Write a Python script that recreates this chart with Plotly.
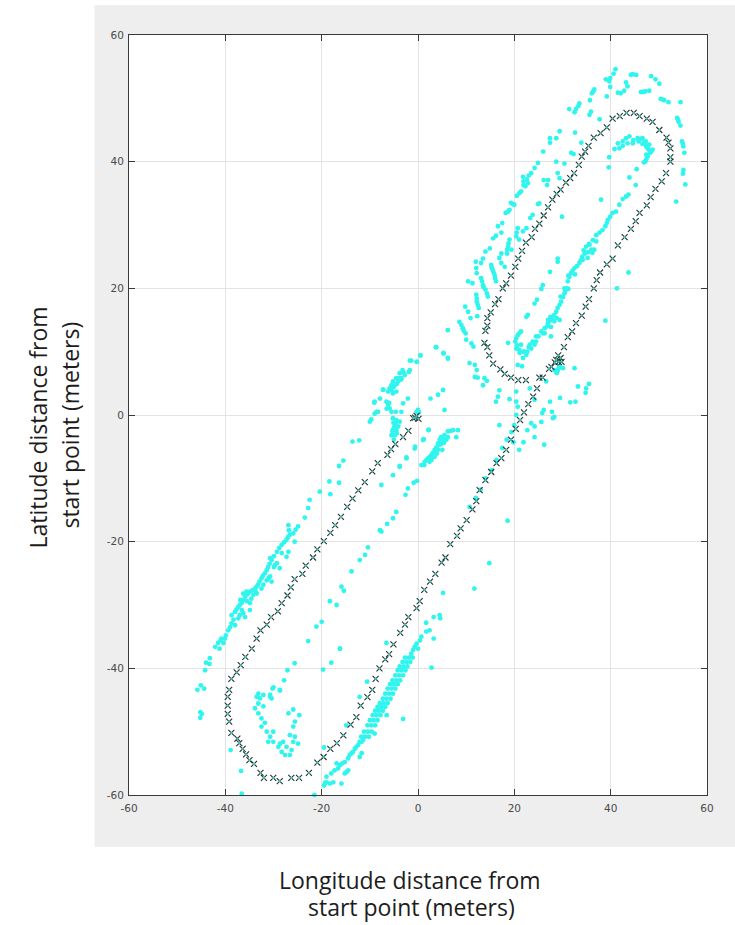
import plotly.graph_objects as go

# Vehicle track (longitude m, latitude m)
track_south = [(-1.0,-0.5),(-0.3,-0.15),(0.1,-0.6),(-0.6,-0.4),(-2.0,-2.5),(-3.1,-3.5),(-4.7,-4.6),(-5.6,-5.4),(-6.35,-6.3),(-8.35,-7.6),(-9.5,-8.9),(-11.05,-10.6),(-12.4,-11.9),(-13.6,-13.2),(-14.7,-14.5),(-16.0,-16.1),(-17.2,-17.4),(-18.2,-18.6),(-19.55,-19.9),(-20.9,-21.2),(-21.8,-22.5),(-23.3,-23.8),(-24.0,-25.1),(-25.6,-25.9),(-26.4,-27.2),(-27.1,-28.5),(-28.3,-29.7),(-29.1,-31.0),(-30.5,-31.9),(-31.4,-33.1),(-32.7,-34.0),(-33.5,-35.3),(-34.5,-36.9),(-35.85,-38.2),(-36.8,-39.5),(-37.65,-40.65),(-38.75,-41.65),(-39.2,-43.4),(-39.5,-44.5),(-39.5,-45.9),(-39.5,-47.2),(-39.2,-48.4),(-38.75,-50.2),(-37.5,-51.1),(-37.1,-51.8),(-36.4,-52.7),(-35.7,-53.6),(-35.0,-54.5),(-34.05,-55.1),(-32.7,-56.5),(-32.0,-57.3),(-30.05,-57.3),(-28.7,-57.8),(-26.3,-57.3),(-24.7,-57.3),(-22.65,-56.5),(-20.9,-54.9),(-19.6,-54.0),(-18.2,-52.7),(-16.85,-51.8),(-15.5,-50.6),(-14.0,-48.9),(-12.8,-47.7),(-11.9,-45.9),(-10.5,-44.55),(-9.5,-43.4),(-8.8,-41.65),(-8.0,-40.0),(-6.8,-38.6),(-6.0,-37.75),(-5.1,-36.2),(-3.7,-34.4),(-2.7,-33.1),(-2.0,-31.9),(-0.3,-30.5),(0.35,-29.4),(1.3,-27.6),(2.5,-26.3),(3.6,-25.1),(4.9,-23.3),(5.7,-22.5),(6.7,-20.4),(8.1,-19.1),(8.85,-17.9),(10.1,-16.6),(11.3,-14.9),(12.1,-13.6),(12.8,-11.85),(14.0,-10.3),(15.2,-9.0),(16.3,-7.6),(17.3,-6.8),(18.3,-5.5),(19.3,-3.9)]
track_north = [(20.3,-2.2),(21.2,-0.8),(22.0,0.4),(22.9,1.7),(23.9,2.9),(24.7,4.2),(25.2,5.9),(25.9,5.9),(27.2,7.3),(27.7,7.6),(28.4,8.3),(28.7,8.7),(29.2,8.4),(29.8,8.4),(29.6,9.0),(29.1,9.4),(30.3,10.7),(31.1,12.3),(32.0,13.2),(32.8,14.5),(34.0,15.7),(34.8,17.1),(35.5,18.3),(36.5,20.0),(37.1,21.3),(37.8,22.5),(39.2,23.8),(40.4,24.7),(41.5,26.8),(42.9,28.1),(44.2,29.4),(45.2,30.6),(46.0,31.9),(47.5,33.1),(48.3,34.4),(49.3,35.7),(50.6,36.9),(51.5,38.2),(52.4,40.0),(52.4,40.7),(52.4,42.1),(52.0,43.0),(51.6,43.8),(50.1,45.0),(48.7,46.3),(47.5,46.8),(46.0,47.2),(44.8,47.7),(43.3,47.7),(41.9,47.2),(40.4,46.8),(39.2,45.4),(37.9,44.5),(36.5,43.8),(35.4,42.5),(34.7,41.6),(34.0,40.8),(33.4,39.5),(32.4,38.2),(31.6,37.4),(30.7,36.7),(29.6,35.6),(28.8,34.9),(27.9,34.0),(27.0,32.8),(26.1,31.5),(25.2,30.2),(24.3,29.4),(23.6,28.1),(22.4,27.2),(21.6,25.9),(20.8,24.7),(20.2,23.4),(19.3,22.0),(18.3,20.8),(17.6,20.0),(16.7,18.3),(16.0,17.5),(15.1,16.2),(14.4,15.3),(14.4,14.1),(14.0,13.3),(13.8,11.4),(14.4,10.7),(14.8,9.4),(15.6,8.1),(17.1,7.2),(18.0,6.5),(19.3,5.9),(20.8,5.5),(22.4,5.5)]

# Detected landmarks (cyan), by area
top_arc = [(41.0,54.6),(40.6,53.9),(39.9,53.2),(39.0,53.0),(39.7,52.7),(39.9,51.8),(39.2,50.3),(36.6,51.4),(36.4,51.1),(36.1,50.8),(35.7,49.7),(33.5,49.2),(33.3,48.8),(32.8,48.3),(32.5,47.8),(31.4,48.3),(35.9,47.9),(35.6,47.4),(37.7,46.7),(45.3,53.7),(44.6,53.8),(44.2,53.7),(43.2,52.5),(43.5,51.9),(42.8,51.2),(41.5,50.9),(42.1,50.8),(48.4,53.5),(49.3,53.0),(50.1,52.3),(46.3,51.0),(46.8,51.0),(47.2,51.1),(48.0,51.2),(50.4,49.9),(50.8,49.8),(51.1,49.7),(52.0,49.4),(54.5,49.4),(53.8,46.9),(54.0,46.6),(54.1,46.3),(54.5,45.7),(54.8,43.2),(55.0,42.8),(55.1,42.4),(55.3,41.4),(55.1,38.7),(55.0,38.1),(55.5,36.4),(53.6,33.7)]
north_outer = [(32.6,44.6),(33.9,43.0),(31.8,41.4),(32.3,41.2),(29.4,44.8),(28.7,43.7),(27.4,43.7),(27.4,43.0),(26.0,41.6),(24.9,39.8),(24.2,39.0),(23.5,38.2),(23.0,37.8),(22.6,37.2),(21.8,37.6),(21.9,36.9),(22.8,36.6),(22.3,36.1),(21.9,36.3),(21.4,35.3),(21.0,35.0),(20.5,34.6),(19.7,33.3),(19.3,33.5),(20.0,33.2),(19.0,32.4),(18.7,32.1),(18.2,31.9),(28.7,40.0),(30.4,39.7),(29.0,38.2),(29.4,37.4),(27.0,37.1),(26.1,37.1),(26.8,36.3),(25.2,33.4),(24.9,33.3),(23.8,31.6),(23.3,31.1),(20.7,29.5),(20.5,28.8),(20.4,28.2),(21.0,27.7),(22.5,29.5),(21.8,29.0),(19.0,27.7),(18.8,27.1),(18.7,26.6),(18.5,26.1),(18.5,25.5),(19.4,26.1),(17.5,30.3),(16.6,29.8),(15.6,27.9),(16.2,28.3),(17.3,28.8),(14.9,26.3),(14.0,25.8),(13.5,24.7),(13.1,24.0),(12.0,24.2),(12.1,23.2),(12.2,22.4),(15.2,23.7),(15.3,23.3),(15.5,22.9),(15.7,22.5),(15.9,22.1),(16.0,21.6),(16.2,21.1),(17.3,25.5),(16.9,24.8),(17.3,24.0),(18.0,23.4),(13.1,21.6),(13.3,21.1),(13.5,20.5),(13.6,20.2),(14.0,19.8),(14.3,19.2),(14.5,18.7),(12.1,19.0),(12.2,18.4),(12.2,17.9),(12.4,17.4),(12.6,16.9),(10.4,21.1),(11.3,20.8),(9.8,17.1),(10.4,16.3),(8.6,14.7),(9.0,14.2),(9.3,13.7),(9.5,13.3),(9.9,12.9),(10.9,15.3),(12.3,15.6),(6.2,13.4),(10.0,11.9),(11.1,11.3),(11.5,10.8),(3.8,10.7),(5.3,9.8),(6.2,8.9),(0.5,9.4),(-1.4,8.6),(-0.3,8.4),(10.7,8.2),(11.8,7.9),(12.2,7.1),(11.8,6.0),(12.4,5.9),(13.8,5.8),(14.3,5.4),(13.5,4.7),(16.9,3.9),(16.6,2.9),(16.2,2.1),(20.4,3.7),(19.0,2.5),(20.7,7.9),(21.6,7.7)]
inner_arc = [(40.8,42.0),(41.8,42.1),(41.5,42.9),(42.5,43.2),(43.2,43.7),(43.9,44.0),(44.7,43.4),(45.6,43.7),(43.5,42.9),(44.6,42.9),(42.5,42.5),(46.3,43.6),(47.0,42.9),(47.7,42.1),(48.4,41.6),(47.7,40.8),(47.2,40.0),(46.6,43.7),(45.8,43.2),(48.0,42.7),(48.7,41.9),(47.4,42.4),(47.9,41.9),(48.2,41.4),(47.4,41.1),(47.4,40.4),(46.9,39.9),(46.6,42.8),(46.9,43.0),(47.3,43.2)]
inner_streak = [(35.2,24.8),(34.2,24.5),(33.5,24.0),(33.0,23.5),(32.5,23.2),(32.1,22.8),(31.8,22.4),(31.4,21.8),(31.1,21.1),(30.9,20.0),(30.6,19.6),(30.4,19.2),(30.1,18.6),(29.7,17.9),(29.4,17.4),(29.0,16.9),(28.7,16.3),(28.3,15.8),(27.9,15.3),(27.4,14.9),(27.0,14.5),(26.3,13.7),(25.6,13.2),(24.5,12.4),(23.8,11.6),(23.2,11.1),(22.1,10.0),(27.0,15.0),(28.3,14.8),(29.4,15.0),(27.6,13.9),(26.3,12.9),(24.2,11.1),(23.5,10.5),(21.4,13.2),(20.7,12.6),(20.2,11.6),(20.4,10.5),(21.1,9.8),(21.8,9.0),(22.5,9.5),(21.4,11.1),(43.7,34.8),(43.2,34.5),(42.5,34.1),(41.8,33.2),(41.1,32.1),(40.4,31.9),(39.9,31.3),(39.4,30.8),(39.2,30.3),(38.9,29.8),(38.3,29.2),(37.7,28.8),(37.0,28.4),(36.3,27.6),(37.0,27.4),(35.6,26.9),(34.9,26.6),(36.0,26.1),(36.6,26.1),(34.6,25.5),(34.1,25.0),(27.5,15.5),(28.8,15.3),(26.8,14.0),(25.9,12.9),(25.0,12.4),(24.5,11.6),(23.0,10.7),(22.7,10.0),(21.8,10.0),(21.0,10.3),(20.6,11.0),(20.4,12.1),(21.0,12.9),(30.4,20.0),(31.2,19.9),(29.6,18.7),(31.2,22.0),(32.6,22.2),(35.5,27.0),(34.4,26.0),(35.3,25.7),(36.2,25.6),(33.8,24.4)]
inner_sparse = [(45.4,38.8),(43.9,37.5),(45.2,36.3),(39.7,40.7),(39.6,39.1),(38.0,34.0),(29.0,24.7),(29.0,24.2),(27.4,22.6),(25.9,20.5),(25.6,19.9),(24.7,18.2),(24.2,17.6),(22.8,15.8),(22.5,15.5),(29.9,31.3),(38.9,14.9),(41.3,20.0),(43.7,22.5),(27.6,12.4),(18.7,11.4),(32.5,7.4),(29.2,7.4),(28.8,6.6),(29.5,7.7),(28.3,7.1),(30.1,7.4),(29.0,7.0),(26.6,5.3),(35.5,4.9),(34.9,4.2),(34.8,3.5),(33.2,4.5),(32.7,2.1),(31.6,2.0),(29.5,2.7),(27.4,2.1),(20.4,2.1),(20.7,1.3),(26.1,0.8),(25.8,0.3),(27.8,0.5),(28.3,-0.3),(28.0,-0.5),(23.2,4.2),(24.2,2.4),(23.5,-1.3),(24.2,-1.8),(25.6,-1.1),(20.4,0.0)]
center_cluster = [(-1.7,7.1),(-2.75,6.3),(-3.45,5.8),(-4.1,5.3),(-4.8,4.7),(-5.5,4.7),(-5.9,4.2),(-6.2,3.7),(-5.2,3.4),(-4.5,3.7),(-7.2,4.0),(-9.0,2.1),(-6.55,2.1),(-6.2,1.6),(-5.9,1.05),(-5.2,-0.5),(-4.8,-1.6),(-5.2,-2.4),(-4.5,-0.8),(-4.1,-1.8),(-4.8,-3.2),(-5.5,-3.2),(-4.5,-2.4),(-3.8,-1.05),(-8.6,0.5),(-10.0,-1.05),(-2.1,2.6),(-3.1,1.85),(-3.45,0.5),(-4.6,0.5),(0.0,0.8),(0.2,0.4),(-0.3,0.5),(-1.7,8.6),(-0.2,8.4),(0.5,9.4),(-3.2,7.1),(-1.9,6.8),(-3.8,6.6),(-4.5,5.8),(-3.5,5.6),(-5.2,5.3),(-7.3,4.0),(-7.9,2.6),(-9.1,1.95),(-8.3,0.5),(-9.0,0.2),(-9.7,-0.7),(3.7,10.7),(5.3,9.7),(6.2,9.0),(-3.0,6.7),(-3.8,5.8),(-4.4,4.9),(-5.1,4.4),(-5.5,3.9),(-5.1,-1.2),(-5.0,-2.0),(-4.4,-2.9),(-5.0,-3.9),(-5.3,-2.6),(-4.6,-1.2),(-6.0,1.9),(-5.5,0.5),(-6.5,1.0)]
center_blob = [(7.3,-2.4),(8.3,-2.4),(6.8,-2.5),(6.2,-2.6),(5.5,-3.2),(5.2,-3.4),(5.2,-3.9),(4.9,-4.5),(4.5,-4.7),(3.8,-5.1),(3.45,-5.5),(3.1,-6.0),(2.8,-6.3),(2.45,-6.6),(2.1,-6.85),(1.75,-7.1),(1.4,-7.4),(0.7,-7.9),(4.5,-3.9),(5.9,-3.9),(4.15,-5.5),(4.15,-4.5),(3.45,-6.6),(2.8,-7.1),(7.95,-3.5),(5.05,-5.5),(1.05,-3.95),(-0.7,-5.3),(-2.4,-6.85),(-3.8,-8.2),(2.6,2.6),(4.15,3.2),(5.2,3.95),(5.5,0.8),(2.2,-2.4),(3.9,-6.1),(3.2,-6.6),(2.4,-7.4),(1.3,-7.9),(5.4,-4.4),(4.8,-3.5),(6.2,-3.5)]
west_outer = [(-40.1,-35.3),(-39.4,-34.0),(-38.7,-32.9),(-38.7,-31.6),(-38.0,-31.1),(-37.3,-30.3),(-36.6,-29.7),(-35.9,-28.7),(-34.9,-27.9),(-33.8,-27.4),(-33.2,-26.8),(-32.5,-25.8),(-31.8,-25.0),(-31.1,-24.0),(-30.4,-22.9),(-29.3,-21.6),(-28.3,-20.5),(-27.3,-19.7),(-26.6,-18.9),(-25.9,-18.7),(-26.9,-17.4),(-24.9,-17.6),(-36.9,-29.2),(-36.3,-28.2),(-35.6,-27.9),(-31.4,-26.1),(-30.4,-26.3),(-32.5,-27.4),(-34.2,-28.4),(-35.9,-31.9),(-37.3,-32.1),(-38.0,-33.2),(-29.7,-23.7),(-28.7,-24.2),(-30.7,-22.6),(-26.9,-21.6),(-27.3,-22.4),(-25.6,-20.0),(-39.0,-33.5),(-38.3,-32.3),(-37.7,-30.7),(-37.0,-30.0),(-36.2,-29.2),(-35.4,-28.3),(-34.4,-27.7),(-33.5,-27.1),(-32.9,-26.3),(-32.2,-25.4),(-31.4,-24.5),(-30.8,-23.5),(-29.9,-22.3),(-28.8,-21.0),(-27.8,-20.1),(-27.0,-19.3),(-26.8,-18.2),(-25.4,-18.1),(-36.6,-30.8),(-37.0,-31.6),(-35.5,-29.4),(-34.6,-29.0),(-33.6,-28.0),(-31.0,-25.7),(-29.9,-24.0),(-36.3,-31.3),(-34.9,-29.7),(-33.5,-28.2),(-32.1,-26.8),(-30.7,-25.5),(-29.3,-23.4),(-28.3,-21.8),(-34.9,-30.8),(-41.5,-36.0),(-40.4,-36.0),(-39.9,-34.8),(-13.6,-4.2),(-12.2,-4.0),(-15.5,-7.2),(-16.4,-8.05),(-18.4,-10.5),(-16.4,-10.7),(-20.4,-12.1),(-18.2,-12.5),(-22.5,-13.4),(-22.8,-14.7),(-23.5,-16.2),(-41.0,-35.6),(-40.8,-35.3),(-42.1,-36.6),(-41.2,-36.9),(-43.2,-38.4),(-44.0,-39.1),(-43.3,-39.3),(-44.2,-40.3),(-45.1,-42.7),(-44.4,-43.2),(-45.8,-43.4),(-45.2,-46.9),(-44.9,-47.2),(-45.2,-47.8)]
middle_sparse = [(-7.9,-18.2),(-7.6,-18.4),(-6.4,-17.2),(-5.2,-16.3),(-4.5,-15.3),(-7.6,-11.05),(-5.2,-9.5),(-3.8,-8.05),(-2.4,-6.7),(-0.6,-5.0),(1.2,-3.8),(2.2,-2.3),(-2.6,-12.6),(-2.1,-11.6),(-0.9,-10.7),(-0.2,-10.4),(-10.4,-20.9),(-11.0,-22.1),(-12.1,-22.9),(-13.8,-24.7),(-15.9,-27.1),(-15.4,-27.75),(-18.3,-29.4),(-16.9,-30.0),(-20.0,-32.65),(-21.1,-33.4),(-22.8,-35.7),(-16.2,-36.9),(-18.0,-39.1),(-19.7,-40.2),(-25.6,-39.2),(-27.1,-40.3),(-27.8,-41.9),(-28.7,-43.4),(-30.2,-43.2),(-30.7,-44.5),(10.7,-14.5),(12.0,-13.1),(13.0,-11.8),(14.0,-10.0),(15.3,-8.7),(16.3,-7.1),(17.5,-5.2),(18.4,-3.9),(19.4,-2.7),(20.0,-1.6),(18.6,-16.7),(14.8,-23.4),(19.8,-4.3),(21.0,-5.5),(22.7,-2.4),(21.9,-4.3),(24.2,-3.5),(26.2,-4.7),(16.9,-1.6)]
hook = [(-33.15,-44.0),(-33.5,-44.5),(-32.8,-44.75),(-32.1,-44.2),(-33.15,-45.55),(-32.1,-46.0),(-33.85,-46.3),(-33.15,-47.1),(-32.5,-47.9),(-31.8,-48.6),(-32.5,-49.2),(-31.4,-50.0),(-30.7,-50.8),(-30.05,-50.0),(-31.1,-51.6),(-30.05,-51.6),(-29.0,-52.4),(-28.3,-53.2),(-27.6,-53.7),(-26.6,-53.7),(-26.25,-52.9),(-27.3,-52.4),(-28.65,-51.9),(-28.0,-51.6),(-25.9,-51.6),(-26.6,-50.55),(-25.55,-50.8),(-30.4,-44.75),(-30.0,-43.0),(-30.7,-44.2),(-28.65,-43.5),(-26.9,-47.1),(-25.9,-46.5),(-24.65,-47.4),(-25.55,-48.4),(-25.9,-49.2),(-24.9,-51.9),(-38.9,-52.9),(-36.75,-56.2),(-36.6,-59.8),(-21.5,-60.0)]
south_center = [(-18.3,-58.2),(-17.3,-56.1),(-16.2,-55.3),(-15.2,-54.8),(-14.2,-53.7),(-13.1,-52.7),(-12.4,-52.1),(-11.7,-51.6),(-11.0,-50.8),(-10.4,-50.0),(-9.7,-49.0),(-9.2,-48.2),(-8.6,-47.4),(-8.1,-46.7),(-7.6,-46.1),(-7.1,-45.5),(-6.5,-44.8),(-6.0,-44.0),(-5.5,-43.2),(-5.0,-42.5),(-4.5,-41.9),(-3.9,-41.1),(-3.4,-40.3),(-3.0,-39.7),(-2.4,-39.0),(-1.9,-38.3),(-1.4,-37.7),(-0.7,-36.6),(0.4,-35.6),(1.7,-34.2),(-19.0,-57.1),(-18.0,-56.6),(-16.9,-55.0),(-14.5,-54.2),(-13.5,-53.2),(-12.1,-51.6),(-11.4,-51.3),(-15.7,-55.0),(-19.3,-58.1),(-17.6,-58.0),(-16.6,-55.8),(-13.8,-53.45),(-12.8,-52.4),(-14.8,-56.35),(-1.0,-37.1),(-0.3,-36.1),(0.7,-35.0),(0.0,-36.9)]
south_right = [(-10.2,-50.8),(-9.6,-50.0),(-8.9,-49.0),(-8.4,-48.2),(-7.8,-47.4),(-7.3,-46.7),(-6.8,-46.1),(-6.3,-45.5),(-5.7,-44.8),(-5.2,-44.0),(-4.7,-43.2),(-4.2,-42.5),(-3.7,-41.9),(-3.1,-41.1),(-2.6,-40.3),(-2.2,-39.7),(-1.6,-39.0),(-1.1,-38.3)]
south_left = [(-11.8,-50.8),(-11.2,-50.0),(-10.5,-49.0),(-10.0,-48.2),(-9.4,-47.4),(-8.9,-46.7),(-8.4,-46.1),(-7.9,-45.5),(-7.3,-44.8),(-6.8,-44.0),(-6.3,-43.2),(-5.8,-42.5),(-5.3,-41.9),(-4.7,-41.1),(-4.2,-40.3),(-3.8,-39.7),(-3.2,-39.0),(-2.7,-38.3)]
south_sparse = [(-14.5,-56.1),(-15.2,-56.6),(-11.7,-53.4),(-12.1,-54.0),(-9.0,-50.3),(-6.5,-47.4),(-3.1,-48.0),(-15.9,-58.2),(-19.0,-58.0),(-19.5,-58.5),(-19.5,-52.5),(-14.9,-49.0),(-12.1,-44.5),(-10.55,-42.1),(-6.55,-36.0),(-16.2,-36.9),(2.8,-39.9),(2.4,-34.0),(3.25,-35.3),(1.7,-32.8),(3.25,-31.9),(4.5,-31.6),(4.6,-32.1),(5.2,-28.1),(11.7,-27.4)]

x_ticks = [-60, -40, -20, 0, 20, 40, 60]
y_ticks = [-60, -40, -20, 0, 20, 40, 60]
x_title_lines = ["Longitude distance from", "start point (meters)"]
y_title_lines = ["Latitude distance from", "start point (meters)"]

cyan_groups = [top_arc, north_outer, inner_arc, inner_streak, inner_sparse, center_cluster, center_blob,
               west_outer, middle_sparse, hook, south_center, south_right, south_left, south_sparse]
cyan_points = [p for g in cyan_groups for p in g]
track = track_south + track_north

fig = go.Figure()
fig.add_trace(go.Scatter(
    x=[p[0] for p in cyan_points], y=[p[1] for p in cyan_points], mode="markers",
    marker=dict(color="#2ff5ee", size=4.8, line=dict(width=0)), name="landmarks", cliponaxis=False))
fig.add_trace(go.Scatter(
    x=[p[0] for p in track], y=[p[1] for p in track], mode="markers",
    marker=dict(symbol="x-thin", size=6, line=dict(width=1.1, color="#25302f")), name="track"))
fig.add_trace(go.Scatter(
    x=[p[0] for p in track], y=[p[1] for p in track], mode="markers",
    marker=dict(color="#3cc4b8", size=2.4, line=dict(width=0)), name="track centre"))

axis_common = dict(range=[-60, 60], showgrid=True, gridcolor="#e3e3e3", gridwidth=1,
                   zeroline=False, showline=True, linecolor="#3a3a3a", linewidth=1,
                   mirror="allticks", ticks="inside", ticklen=6, tickcolor="#3a3a3a",
                   tickfont=dict(family="DejaVu Sans", size=10.5, color="#4a4a4a"))
fig.update_xaxes(tickvals=x_ticks, ticktext=[str(v) for v in x_ticks], ticklabelstandoff=3, **axis_common)
fig.update_yaxes(tickvals=y_ticks, ticktext=[str(v) for v in y_ticks], ticklabelstandoff=2, **axis_common)

title_font = dict(family="Open Sans", size=23, color="#1c1c1c")
def px_x(px):
    return (px - 128.5) / 578.5
def px_y(py):
    return (795 - py) / 760

label_common = dict(xref="paper", yref="paper", showarrow=False, font=title_font, xanchor="center", yanchor="middle")
annotations = [
    dict(text=x_title_lines[0], x=px_x(410), y=px_y(880), **label_common),
    dict(text=x_title_lines[1], x=px_x(411), y=px_y(907), **label_common),
    dict(text=y_title_lines[0], x=px_x(37), y=px_y(428), textangle=-90, **label_common),
    dict(text=y_title_lines[1], x=px_x(69), y=px_y(425), textangle=-90, **label_common),
]

fig.update_layout(
    width=735, height=925, autosize=False, showlegend=False,
    margin=dict(l=128.5, r=28, t=35, b=130, autoexpand=False),
    paper_bgcolor="white", plot_bgcolor="white",
    annotations=annotations,
    shapes=[
        dict(type="rect", xref="paper", yref="paper", x0=px_x(94), x1=px_x(735), y0=px_y(847), y1=px_y(5),
             fillcolor="#eeeeee", line_width=0, layer="below"),
        dict(type="rect", xref="x", yref="y", x0=-60, x1=60, y0=-60, y1=60,
             fillcolor="white", line_width=0, layer="below"),
    ],
)
fig.write_html("out.html", config={"displayModeBar": False}, post_script="document.body.style.margin='0';")
